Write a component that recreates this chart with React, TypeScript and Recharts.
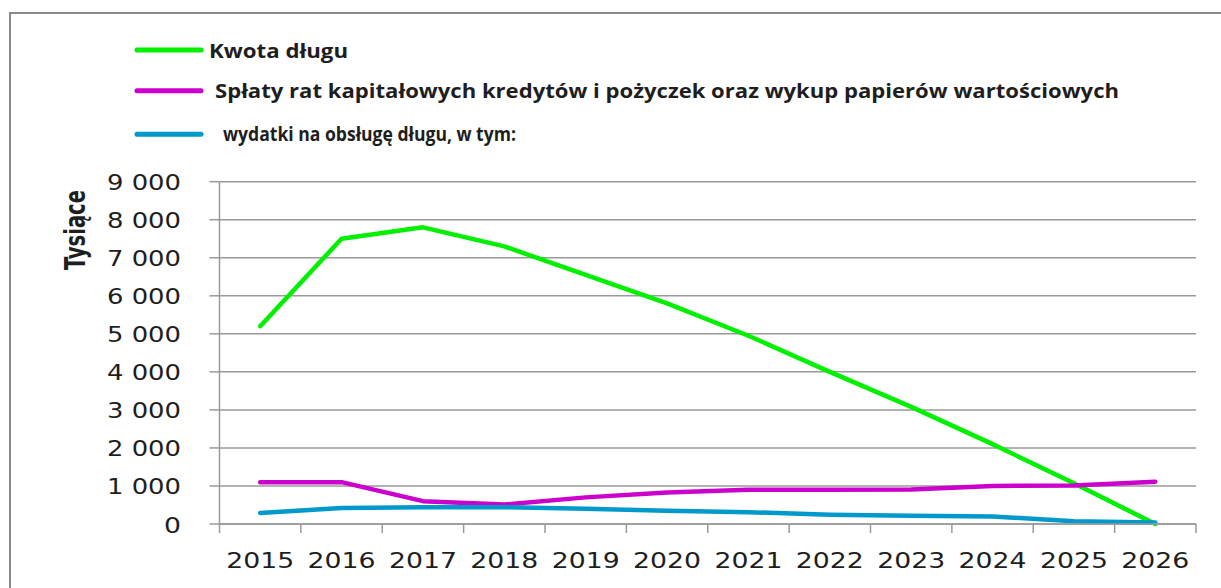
import React from 'react';
import { LineChart, Line, XAxis, YAxis, CartesianGrid, Legend, Label } from 'recharts';

const years = ['2015', '2016', '2017', '2018', '2019', '2020', '2021', '2022', '2023', '2024', '2025', '2026'];
const kwotaDlugu = [5200, 7500, 7800, 7300, 6550, 5800, 4950, 4000, 3080, 2100, 1070, 0];
const splatyRat = [1100, 1100, 600, 510, 700, 830, 900, 900, 910, 1000, 1010, 1110];
const wydatkiObsluga = [290, 420, 440, 440, 400, 350, 310, 245, 215, 200, 70, 40];
const yTicks = [0, 1000, 2000, 3000, 4000, 5000, 6000, 7000, 8000, 9000];
const seriesNames = [
  'Kwota długu',
  'Spłaty rat kapitałowych kredytów i pożyczek oraz wykup papierów wartościowych',
  'wydatki na obsługę długu, w tym:',
];
const seriesKeys = ['kwota', 'splaty', 'wydatki'];
const seriesColors = ['#00F000', '#CC00CC', '#0099CC'];
const yTitle = 'Tysiące';

const data = years.map((year, i) => ({
  year,
  kwota: kwotaDlugu[i],
  splaty: splatyRat[i],
  wydatki: wydatkiObsluga[i],
}));

const W = 1221;
const H = 588;
const PLOT_LEFT = 219.5;
const PLOT_RIGHT = 1196;
const PLOT_TOP = 181.7;
const PLOT_BOTTOM = 524;
const BAND = (PLOT_RIGHT - PLOT_LEFT) / years.length;
const Y_AXIS_W = 100;
const X_AXIS_H = 40;
const AXIS_COLOR = '#9a9a9a';
const TEXT_COLOR = '#1e1e1e';
const TICK_FONT = "'DejaVu Sans', Verdana, sans-serif";

const legendRows = [
  { lineY: 50, textX: 209, baseline: 57.5, len: 139 },
  { lineY: 90.7, textX: 215, baseline: 98, len: 904 },
  { lineY: 134.3, textX: 223, baseline: 141, len: 293 },
];

const fmt = (v: number) =>
  v >= 1000 ? `${Math.floor(v / 1000)} ${String(v % 1000).padStart(3, '0')}` : String(v);

const YTick = (props: any) => {
  const { y, payload } = props;
  const label = fmt(payload.value);
  const len = label.length > 1 ? 74 : 17;
  return (
    <text
      x={181 - len}
      y={y + 8.5}
      textLength={len}
      lengthAdjust="spacingAndGlyphs"
      fontFamily={TICK_FONT}
      fontSize={22}
      fill={TEXT_COLOR}
    >
      {label}
    </text>
  );
};

const XTick = (props: any) => {
  const { x, payload, index } = props;
  const left = x - BAND / 2;
  const isLast = index === years.length - 1;
  return (
    <g>
      <line x1={left} x2={left} y1={PLOT_BOTTOM} y2={PLOT_BOTTOM + 9} stroke={AXIS_COLOR} strokeWidth={1.5} />
      {isLast && (
        <line x1={x + BAND / 2} x2={x + BAND / 2} y1={PLOT_BOTTOM} y2={PLOT_BOTTOM + 9} stroke={AXIS_COLOR} strokeWidth={1.5} />
      )}
      <text
        x={x - 34}
        y={568}
        textLength={68}
        lengthAdjust="spacingAndGlyphs"
        fontFamily={TICK_FONT}
        fontSize={22}
        fill={TEXT_COLOR}
      >
        {payload.value}
      </text>
    </g>
  );
};

const LegendContent = () => (
  <svg width={W} height={160} style={{ display: 'block' }}>
    {legendRows.map((r, i) => (
      <g key={seriesKeys[i]}>
        <line x1={137} x2={201} y1={r.lineY} y2={r.lineY} stroke={seriesColors[i]} strokeWidth={5} strokeLinecap="round" />
        <text
          x={r.textX}
          y={r.baseline}
          textLength={r.len}
          lengthAdjust="spacingAndGlyphs"
          fontFamily="'Open Sans', 'Noto Sans', sans-serif"
          fontWeight={700}
          fontSize={20}
          fill={TEXT_COLOR}
        >
          {seriesNames[i]}
        </text>
      </g>
    ))}
  </svg>
);

const YTitle = () => (
  <text
    transform="translate(85,230) rotate(-90)"
    x={-40}
    y={0}
    textLength={80}
    lengthAdjust="spacingAndGlyphs"
    fontFamily="'Liberation Sans Narrow', 'DejaVu Sans Condensed', 'Liberation Sans', sans-serif"
    fontWeight={700}
    fontSize={28}
    fill={TEXT_COLOR}
  >
    {yTitle}
  </text>
);

export default function App() {
  return (
    <div style={{ position: 'absolute', left: 0, top: 0, width: W, height: H, overflow: 'hidden', background: '#fff' }}>
      <div
        style={{
          position: 'absolute',
          left: 9,
          top: 12,
          width: W + 40,
          height: H + 40,
          border: '2px solid #8a8a8a',
          boxSizing: 'border-box',
        }}
      />
      <LineChart
        width={W}
        height={H}
        data={data}
        margin={{
          top: PLOT_TOP,
          right: W - PLOT_RIGHT,
          bottom: H - PLOT_BOTTOM - X_AXIS_H,
          left: PLOT_LEFT - Y_AXIS_W,
        }}
      >
        <CartesianGrid vertical={false} stroke={AXIS_COLOR} strokeWidth={1.5} />
        <XAxis
          dataKey="year"
          height={X_AXIS_H}
          padding={{ left: BAND / 2, right: BAND / 2 }}
          axisLine={{ stroke: AXIS_COLOR, strokeWidth: 1.5 }}
          tickLine={false}
          tick={<XTick />}
          interval={0}
        />
        <YAxis
          width={Y_AXIS_W}
          domain={[0, 9000]}
          ticks={yTicks}
          interval={0}
          tickSize={10}
          axisLine={{ stroke: AXIS_COLOR, strokeWidth: 1.5 }}
          tickLine={{ stroke: AXIS_COLOR, strokeWidth: 1.5 }}
          tick={<YTick />}
        >
          <Label content={<YTitle />} />
        </YAxis>
        <Legend
          layout="horizontal"
          verticalAlign="middle"
          align="center"
          content={<LegendContent />}
          wrapperStyle={{ position: 'absolute', top: 0, left: 0, width: W, height: 160 }}
        />
        {seriesKeys.map((k, i) => (
          <Line
            key={k}
            dataKey={k}
            name={seriesNames[i]}
            type="linear"
            stroke={seriesColors[i]}
            strokeWidth={4.5}
            strokeLinecap="round"
            strokeLinejoin="round"
            dot={false}
            activeDot={false}
            isAnimationActive={false}
          />
        ))}
      </LineChart>
    </div>
  );
}
